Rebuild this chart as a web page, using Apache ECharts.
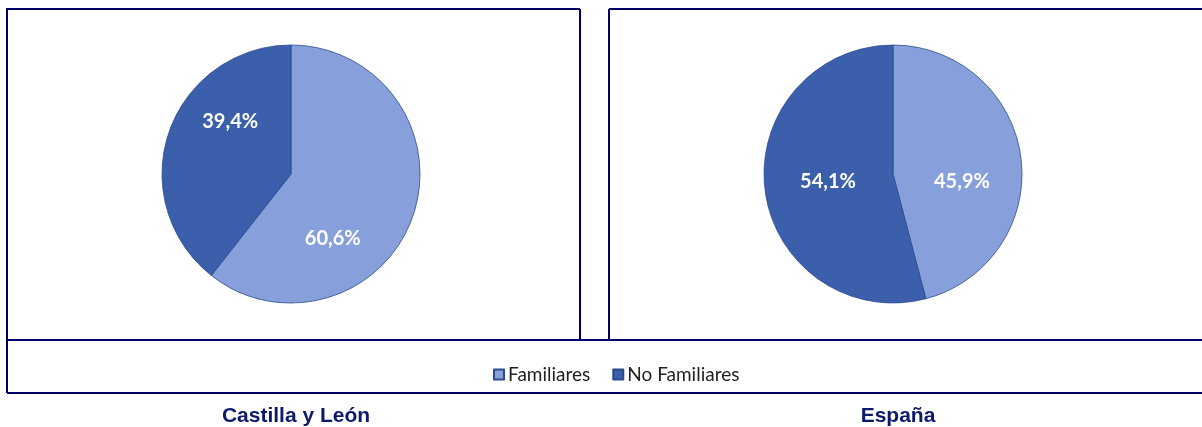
<!DOCTYPE html>
<html>
<head>
<meta charset="utf-8">
<script src="https://cdn.jsdelivr.net/npm/echarts@6/dist/echarts.min.js"></script>
<style>
  html, body { margin: 0; padding: 0; background: #fff; }
  #chart { width: 1202px; height: 427px; }
</style>
</head>
<body>
<div id="chart"></div>
<script>
// datos
const categorias = ['Familiares', 'No Familiares'];
const castillaLeon = [60.6, 39.4];
const espana = [45.9, 54.1];
const titulos = ['Castilla y León', 'España'];

const colorClaro = '#87a0dc';
const colorOscuro = '#3b5fab';
const azulBorde = '#00006a';

// desplazamientos de las etiquetas (como en el original de Excel)
const ajusteEtiquetas = {
  left: [{ dx: -22, dy: 42 }, { dx: 3, dy: -30 }],
  right: [{ dx: 2, dy: 16 }, { dx: 2, dy: -1 }],
};

const fmt = v => v.toFixed(1).replace('.', ',') + '%';

const buildData = values => values.map((v, i) => ({
  name: categorias[i],
  value: v,
  itemStyle: { color: i === 0 ? colorClaro : colorOscuro },
}));

const pieSerie = (values, cx, key) => ({
  type: 'pie',
  center: [cx, 174],
  radius: 129,
  startAngle: 90,
  clockwise: true,
  animation: false,
  silent: true,
  itemStyle: { borderColor: '#2c4a8a', borderWidth: 0.8 },
  label: {
    show: true,
    position: 'inside',
    formatter: p => fmt(p.value),
    color: '#fff',
    fontFamily: 'Lato',
    fontWeight: 'bold',
    fontSize: 20,
  },
  labelLine: { show: false },
  labelLayout: p => ajusteEtiquetas[key][p.dataIndex],
  data: buildData(values),
});

const chart = echarts.init(document.getElementById('chart'), null, { renderer: 'canvas' });

const linea = (x1, y1, x2, y2) => ({
  type: 'line',
  shape: { x1, y1, x2, y2 },
  style: { stroke: azulBorde, lineWidth: 2 },
  silent: true,
});

const estiloTitulo = { fontFamily: 'Liberation Sans', fontWeight: 'bold', fontSize: 21, color: '#0d1a6b' };

chart.setOption({
  backgroundColor: '#fff',
  title: [
    { text: titulos[0], left: 291, top: 401, textAlign: 'center', textStyle: estiloTitulo },
    { text: titulos[1], left: 893, top: 401, textAlign: 'center', textStyle: estiloTitulo },
  ],
  legend: {
    data: categorias,
    left: 488,
    top: 360,
    itemWidth: 10,
    itemHeight: 10,
    itemGap: 22,
    icon: 'rect',
    textStyle: { fontFamily: 'Lato', fontSize: 19, color: '#222', padding: [0, 0, 0, -1] },
  },
  graphic: [
    linea(7, 9, 580, 9),
    linea(7, 8, 7, 393),
    linea(580, 9, 580, 340),
    linea(609, 9, 609, 340),
    linea(609, 9, 1202, 9),
    linea(7, 340, 1202, 340),
    linea(7, 393, 1202, 393),
  ],
  series: [
    pieSerie(castillaLeon, 291, 'left'),
    pieSerie(espana, 893, 'right'),
  ],
});
</script>
</body>
</html>
